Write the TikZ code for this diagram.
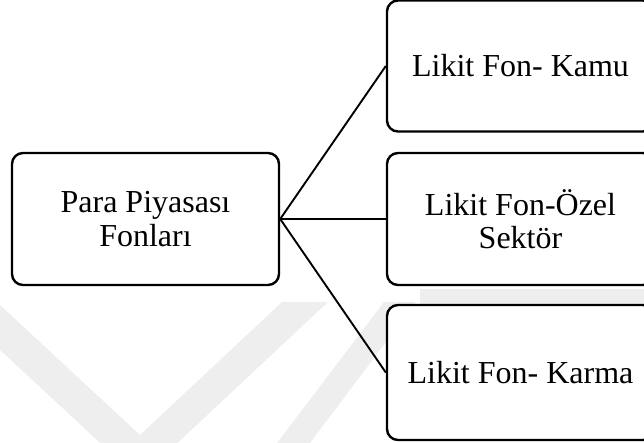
\documentclass[tikz,border=0pt]{standalone}
\usepackage{fontspec}
\setmainfont{Liberation Serif}
\definecolor{wmgray}{gray}{0.935}
\begin{document}
\begin{tikzpicture}[x=1pt,y=-1pt,
  fundbox/.style={draw=black, fill=white, line width=2.4pt, rounded corners=11pt,
    minimum width=267pt, align=center, inner sep=0pt,
    font=\fontsize{32}{33.5}\selectfont},
  link/.style={draw=black, line width=1.9pt}]
  \useasboundingbox (0,0) rectangle (644,443);
  \clip (0,0) rectangle (644,443);
  % faint background emblem
  \fill[wmgray] (0,305) -- (140,435) -- (282,302) -- (328,302) -- (139,479) -- (0,350) -- cycle;
  \fill[wmgray] (277,443) -- (384,302) -- (416,302) -- (310,443) -- cycle;
  \fill[wmgray] (420,289) -- (644,289) -- (644,304) -- (420,304) -- cycle;
  % boxes
  \node[fundbox, minimum height=132pt] (root) at (145.5,219) {Para Piyasası\\Fonları};
  \node[fundbox, minimum height=131pt] (kamu) at (520.5,66) {Likit Fon- Kamu};
  \node[fundbox, minimum height=132pt] (ozel) at (520.5,219) {Likit Fon-Özel\\Sektör};
  \node[fundbox, minimum height=135pt] (karma) at (520.5,372.5) {Likit Fon- Karma};
  % connectors
  \draw[link] (root.east) -- (kamu.west);
  \draw[link] (root.east) -- (ozel.west);
  \draw[link] (root.east) -- (karma.west);
\end{tikzpicture}
\end{document}
